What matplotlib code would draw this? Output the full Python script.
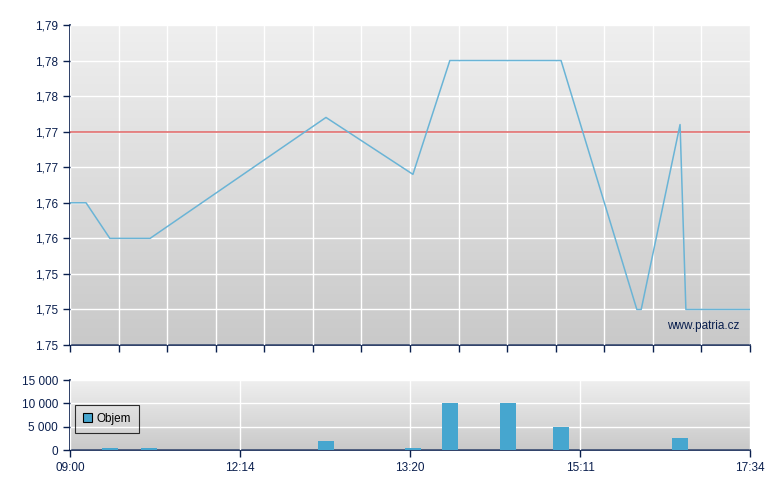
import numpy as np
import matplotlib.pyplot as plt
from matplotlib.patches import Rectangle

plt.rcParams['font.family'] = ['Liberation Sans', 'DejaVu Sans']

# price series (x is trade position on a 0..14 scale)
price_x = [0.0, 0.33, 0.82, 1.65, 5.27, 7.06, 7.82, 10.11, 11.67, 11.76, 12.56, 12.68, 14.0]
price_y = [1.765, 1.765, 1.760, 1.760, 1.777, 1.769, 1.785, 1.785, 1.750, 1.750, 1.776, 1.750, 1.750]
prev_close = 1.775

# volume bars
vol_x = [0.82, 1.63, 5.27, 7.06, 7.82, 9.02, 10.11, 12.56]
vol_y = [400, 400, 2000, 400, 10000, 10000, 5000, 2600]

price_ticks = [1.745, 1.75, 1.755, 1.76, 1.765, 1.77, 1.775, 1.78, 1.785, 1.79]
price_labels = ['1.75', '1,75', '1,75', '1,76', '1,76', '1,77', '1,77', '1,78', '1,78', '1,79']
vol_ticks = [0, 5000, 10000, 15000]
vol_labels = ['0', '5 000', '10 000', '15 000']
time_pos = [0, 3.5, 7, 10.5, 14]
time_labels = ['09:00', '12:14', '13:20', '15:11', '17:34']

navy = '#0a1f4e'
line_blue = '#6ab4d6'
bar_blue = '#46a6cf'

fig = plt.figure(figsize=(7.8, 4.9), dpi=100)
ax = fig.add_axes([70/780, 145/490, 680/780, 320/490])
axv = fig.add_axes([70/780, 40/490, 680/780, 70/490])

cmap = plt.matplotlib.colors.LinearSegmentedColormap.from_list('g', ['#c9c9c9', '#efefef'])
grad = np.linspace(0, 1, 256).reshape(-1, 1)
for a in (ax, axv):
    a.imshow(grad, extent=[0, 1, 0, 1], transform=a.transAxes, aspect='auto',
             cmap=cmap, origin='lower', zorder=0)
    for s in ('top', 'right'):
        a.spines[s].set_visible(False)
    for s in ('left', 'bottom'):
        a.spines[s].set_color(navy)
        a.spines[s].set_linewidth(1.2)
    a.tick_params(colors=navy, labelcolor=navy, labelsize=8.5, length=5, width=1, direction='out')
    a.set_xlim(0, 14)
    a.grid(True, color='white', lw=1)
    a.set_axisbelow(False)

# upper panel
ax.set_ylim(1.745, 1.79)
ax.set_yticks(price_ticks)
ax.set_yticklabels(price_labels)
ax.set_xticks(np.arange(0, 15))
ax.set_xticklabels([])
ax.axhline(prev_close, color='#e06464', lw=1.1, zorder=3)
ax.plot(price_x, price_y, color=line_blue, lw=1.1, zorder=4)
ax.text(0.985, 0.06, 'www.patria.cz', transform=ax.transAxes, ha='right', va='center',
        color=navy, fontsize=8.5, zorder=5)

# lower panel
axv.set_ylim(0, 15000)
axv.set_yticks(vol_ticks)
axv.set_yticklabels(vol_labels)
axv.set_xticks(time_pos)
axv.set_xticklabels(time_labels)
axv.bar(vol_x, vol_y, width=0.33, color=bar_blue, zorder=3)
handle = Rectangle((0, 0), 1, 1, facecolor=bar_blue, edgecolor='black', lw=0.8)
leg = axv.legend([handle], ['Objem'], loc='upper left', bbox_to_anchor=(0.007, 0.65),
                 fontsize=8.5, frameon=True, fancybox=False, handlelength=0.8, handleheight=0.8,
                 handletextpad=0.3, borderpad=0.7, borderaxespad=0)
leg.get_frame().set_edgecolor('black')
leg.get_frame().set_facecolor('none')
leg.get_frame().set_linewidth(0.8)
leg.set_zorder(6)

fig.savefig('out.png', dpi=100)
